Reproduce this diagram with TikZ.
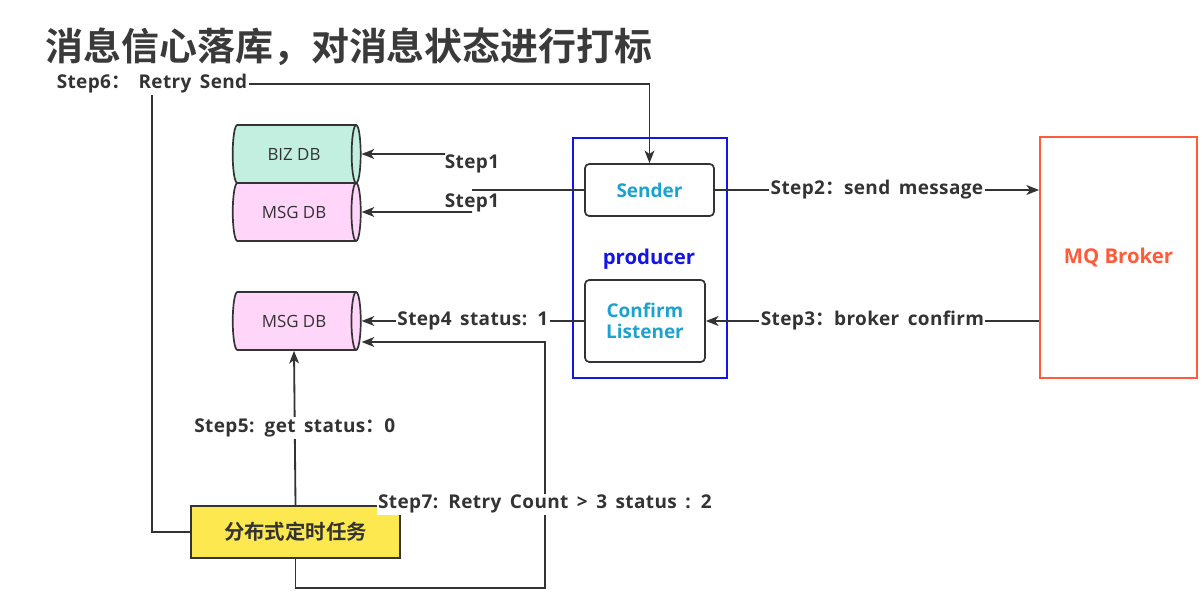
\documentclass[tikz,border=0pt]{standalone}
\usepackage{fontspec}
\setmainfont{Open Sans}
\newfontfamily\stepfont{Open Sans}[LetterSpace=2,WordSpace=1.6]
\newfontfamily\cjk{Noto Sans CJK SC}[BoldFont={Noto Sans CJK SC Bold}]
\usepackage{color}
\usetikzlibrary{shapes,arrows.meta,positioning}
\definecolor{linegray}{HTML}{333333}
\definecolor{titlegray}{HTML}{3A3A3A}
\definecolor{bizgreen}{HTML}{C2EFDF}
\definecolor{msgpink}{HTML}{FFD6FA}
\definecolor{prodblue}{HTML}{1414E6}
\definecolor{sendcyan}{HTML}{1CA2CF}
\definecolor{brokerred}{HTML}{FF5A3A}
\definecolor{taskyellow}{HTML}{FDE84F}
\newlength\pxu
\setlength\pxu{0.025cm}

\begin{document}
\begin{tikzpicture}[x=0.025cm,y=-0.025cm]
	\tikzset{every node/.style={font=\bfseries\fontsize{11}{13}\selectfont,text=linegray}}
	\tikzset{steplabel/.style={fill=white,inner sep=1pt,font=\stepfont\bfseries\fontsize{13.5}{15}\selectfont}}
	\tikzset{dbnode/.style={cylinder,shape border rotate=0,aspect=0.75,draw=linegray,line width=1.2pt,cylinder uses custom fill,minimum width=58\pxu,minimum height=128\pxu,inner sep=0pt,font=\fontsize{12}{14}\selectfont}}
	\tikzset{innerbox/.style={draw=linegray,line width=1.2pt,rounded corners=3pt,text=sendcyan,align=center,font=\bfseries\fontsize{13.5}{15}\selectfont}}
	\tikzset{flow/.style={draw=linegray,line width=1.3pt,-{Stealth[length=9pt,width=7pt,inset=2.5pt]}}}
	\tikzset{wire/.style={draw=linegray,line width=1.3pt}}
	\useasboundingbox (0,0) rectangle (1203,596);
	% title and nodes
	\node[anchor=west,inner sep=0pt,text=titlegray,font=\cjk\bfseries\fontsize{27}{30}\selectfont] (title) at (45,47) {消息信心落库，对消息状态进行打标};
	\node[steplabel] (step6) at (152,84) {Step6{\cjk ：} Retry Send};
	\node[dbnode,cylinder body fill=bizgreen,cylinder end fill=bizgreen] (biz) at (294,154) {BIZ DB};
	\node[dbnode,cylinder body fill=msgpink,cylinder end fill=msgpink] (msgA) at (294,212) {MSG DB};
	\node[dbnode,cylinder body fill=msgpink,cylinder end fill=msgpink] (msgB) at (294,321) {MSG DB};
	\node[draw=prodblue,line width=1.3pt,minimum width=154\pxu,minimum height=240\pxu] (producer) at (650,258) {};
	\node[text=prodblue,font=\bfseries\fontsize{14.5}{17}\selectfont] (prodlabel) at (649,259) {producer};
	\node[innerbox,minimum width=129\pxu,minimum height=52\pxu] (sender) at (649.5,190) {Sender};
	\node[innerbox,minimum width=120\pxu,minimum height=82\pxu] (listener) at (645,321) {Confirm\\Listener};
	\node[draw=brokerred,line width=1.3pt,text=brokerred,minimum width=157\pxu,minimum height=241\pxu,font=\bfseries\fontsize{14.5}{17}\selectfont] (broker) at (1118.5,257.5) {MQ Broker};
	\node[draw=linegray,line width=1.3pt,fill=taskyellow,minimum width=209\pxu,minimum height=52\pxu,font=\cjk\bfseries\fontsize{14.5}{16}\selectfont] (task) at (295.5,532) {分布式定时任务};
	\coordinate (bizin) at (445,154);
	\coordinate (msgout) at (472,190);
	\coordinate (msgin) at (472,212);
	\coordinate (loopdown) at (545,588);
	\coordinate (loopup) at (545,342);
	\node[steplabel] (step1a) at (472,164) {Step1};
	\node[steplabel] (step1b) at (472,203) {Step1};
	% connectors
	\draw[flow] (bizin) -- (biz.east);
	\draw[wire] (sender.west) -- (msgout);
	\draw[flow] (msgin) -- (msgA.east);
	\draw[flow] (step6.east) -| (sender.north);
	\draw[wire] (task.west) -| (step6.south);
	\draw[flow] (sender.east) -- node[steplabel] {Step2{\cjk ：}send message} (sender.east -| broker.west);
	\draw[flow] (listener.east -| broker.west) -- node[steplabel] {Step3{\cjk ：}broker confirm} (listener.east);
	\draw[flow] (listener.west) -- node[steplabel] {Step4 status: 1} (msgB.east);
	\draw[flow] (task.north) -- node[steplabel] {Step5: get status{\cjk ：}0} (msgB.south);
	\draw[flow] (task.south) |- (loopdown) -- node[steplabel,pos=0.34] {Step7: Retry Count > 3 status : 2} (loopup) -- (loopup -| msgB.east);
\end{tikzpicture}
\end{document}
